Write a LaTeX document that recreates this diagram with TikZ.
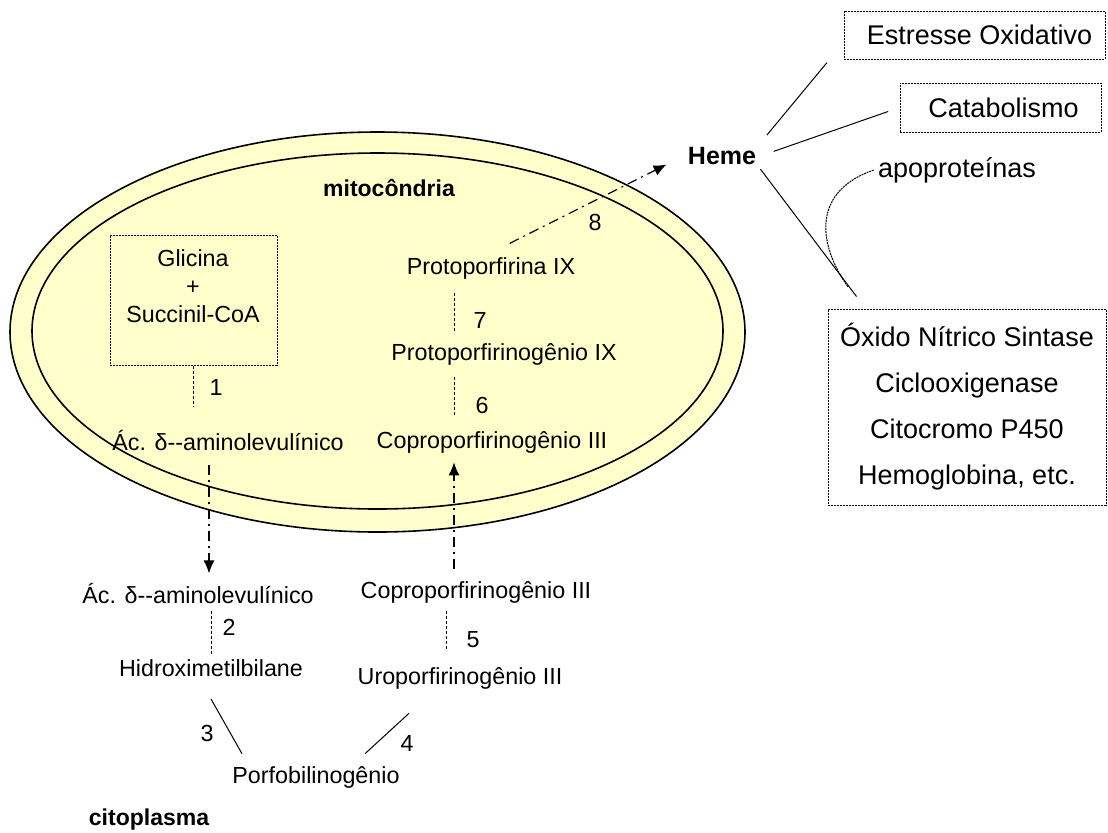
\documentclass[tikz,border=0pt]{standalone}
\usepackage{fontspec}
\setmainfont{Liberation Sans}
\usetikzlibrary{positioning,shapes.geometric,arrows.meta,calc}
\definecolor{mitoamarelo}{HTML}{FFFFCC}
\tikzstyle{membrana} = [ellipse, draw=black, line width=0.8pt, fill=mitoamarelo, inner sep=0pt]
\tikzstyle{texto} = [inner sep=2pt, font=\fontsize{11.65}{14}\selectfont]
\tikzstyle{titulo} = [inner sep=2pt, font=\bfseries\fontsize{11.5}{14}\selectfont]
\tikzstyle{caixa} = [rectangle, draw=black, dash pattern=on 1pt off 0.5pt, line width=0.5pt, inner sep=0pt]
\tikzstyle{passo} = [dash pattern=on 1.5pt off 1pt, line width=0.5pt]
\tikzstyle{transporte} = [-{Latex[length=6.5pt,width=5.5pt]}, dash pattern=on 5pt off 2.5pt on 1pt off 2.5pt, line width=0.6pt]
\tikzstyle{ligacao} = [line width=0.5pt]

\begin{document}
\begin{tikzpicture}[x=0.5pt, y=-0.5pt]
			\useasboundingbox (0,0) rectangle (1108,832);
			\node (membExt) [membrana, minimum width=367.5pt, minimum height=200pt] at (377.5,332) {};
			\node (membInt) [membrana, minimum width=345.5pt, minimum height=178pt] at (377.5,331) {};
			\node (mito) [titulo] at (389,188) {mitocôndria};
			\node (cito) [titulo] at (149,820) {citoplasma};
			%-----------------------------------------------
			\node (gly) [caixa, minimum width=83.5pt, minimum height=65pt] at (193.5,300) {};
			\node (glyt) [texto, align=center] at (193,286) {Glicina\\+\\Succinil-CoA};
			\node (alaM) [texto] at (228,440) {Ác. δ-{}-aminolevulínico};
			\node (ppIX) [texto] at (491,268) {Protoporfirina IX};
			\node (ppgIX) [texto] at (504,354) {Protoporfirinogênio IX};
			\node (cpM) [texto] at (492,442) {Coproporfirinogênio III};
			\node (alaC) [texto] at (198,593) {Ác. δ-{}-aminolevulínico};
			\node (cpC) [texto] at (476,592) {Coproporfirinogênio III};
			\node (hmb) [texto] at (211,668) {Hidroximetilbilane};
			\node (uro) [texto] at (460,678) {Uroporfirinogênio III};
			\node (pbg) [texto] at (316,777) {Porfobilinogênio};
			%-----------------------------------------------
			\node (n1) [texto] at (216,387) {1};
			\node (n2) [texto] at (229,627) {2};
			\node (n3) [texto] at (207,733) {3};
			\node (n4) [texto] at (407,743) {4};
			\node (n5) [texto] at (473,640) {5};
			\node (n6) [texto] at (482,405) {6};
			\node (n7) [texto] at (480,320) {7};
			\node (n8) [texto] at (595,222) {8};
			%-----------------------------------------------
			\node (heme) [inner sep=2pt, font=\bfseries\fontsize{12.5}{15}\selectfont] at (722,156) {Heme};
			\node (est) [caixa, minimum width=130.5pt, minimum height=24pt, font=\fontsize{13.5}{16}\selectfont] at (974.5,35) {\hspace{5pt}Estresse Oxidativo};
			\node (cat) [caixa, minimum width=100.5pt, minimum height=24.5pt, font=\fontsize{13.5}{16}\selectfont] at (1000.5,107.5) {\hspace{3pt}Catabolismo};
			\node (apo) [inner sep=2pt, font=\fontsize{13.5}{16}\selectfont] at (957,170) {apoproteínas};
			\node (enz) [caixa, align=center, minimum width=139pt, minimum height=98pt, font=\fontsize{13.5}{23}\selectfont] at (967,407) {Óxido Nítrico Sintase\\Ciclooxigenase\\Citocromo P450\\Hemoglobina, etc.};
			\coordinate (eixoA) at (209,0);
			\coordinate (eixoB) at (454,0);
			\coordinate (juncao) at (848,287);
			%-----------------------------------------------
			%-----------------------------------------------
			\draw [passo, shorten >=9pt] (gly.south) -- (gly.south |- alaM.north);
			\draw [transporte, shorten <=5pt, shorten >=2.5pt] (alaM.south -| eixoA) -- (alaC.north -| eixoA);
			\draw [passo, shorten <=1.5pt] (hmb.north |- alaC.south) -- (hmb.north);
			\draw [ligacao] ([yshift=-9pt]hmb.south) -- ([xshift=-37pt,yshift=4pt]pbg.north);
			\draw [ligacao] ([xshift=-25.5pt,yshift=-10pt]uro.north |- uro.south) -- ([xshift=24.5pt,yshift=4pt]pbg.north);
			\draw [passo, shorten <=2pt, shorten >=6.5pt] ([xshift=-15pt]cpC.south) -- ([xshift=-15pt]cpC.south |- uro.north);
			\draw [transporte, shorten <=4pt, shorten >=2.5pt] (cpC.north -| eixoB) -- (cpM.south -| eixoB);
			\draw [passo, shorten <=4pt, shorten >=6pt] (ppgIX.south -| eixoB) -- (cpM.north -| eixoB);
			\draw [passo, shorten <=5pt, shorten >=4pt] (ppIX.south -| eixoB) -- (ppgIX.north -| eixoB);
			\draw [transporte, shorten <=10.5pt, shorten >=9.5pt] (ppIX.north) -- (heme.west);
			%-----------------------------------------------
			\draw [ligacao, shorten <=5pt, shorten >=2pt] (heme.north east) -- ([xshift=-7pt]est.south west);
			\draw [ligacao, shorten <=7pt, shorten >=6pt] (heme.east) -- (cat.west);
			\draw [ligacao] (heme.south east) -- ([xshift=14.5pt,yshift=6pt]enz.north west);
			\draw [passo, dash pattern=on 1pt off 0.4pt] (apo.west) .. controls (815,190) and (815,240) .. (juncao);
			\end{tikzpicture}
\end{document}
